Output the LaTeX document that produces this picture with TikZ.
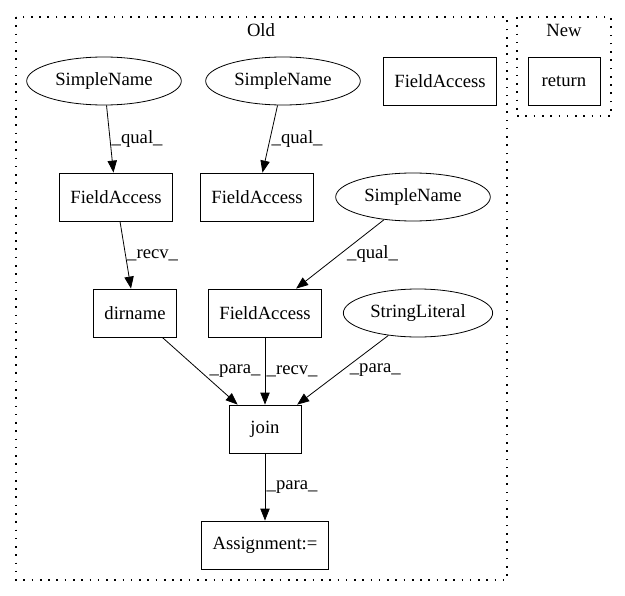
\documentclass[tikz,border=0pt]{standalone}
\usepackage{fontspec}
\setmainfont{Liberation Serif}
\usetikzlibrary{arrows.meta,shapes.geometric}

\begin{document}
\begin{tikzpicture}[x=0.75pt,y=-0.75pt,line width=0.6pt,
    every node/.style={font=\fontsize{14}{16}\selectfont},
    box/.style={draw,minimum height=36pt,minimum width=54pt,inner xsep=8pt},
    oval/.style={draw,ellipse,minimum height=36pt,inner sep=0pt},
    lbl/.style={right,inner sep=1pt},
    arr/.style={-{Triangle[length=9pt,width=7pt]}},
    cluster/.style={draw,line width=0.8pt,dash pattern=on 1.2pt off 5pt}]
    \useasboundingbox (0,0) rectangle (625,596);
    \draw[cluster] (16,17) rectangle (507,580);
    \draw[cluster] (517,17) rectangle (611,116);
    \node (oldtitle) at (261,30) {Old};
    \node (newtitle) at (564,30) {New};

    \node[oval,minimum width=116pt] (sn1) at (104,81) {SimpleName};
    \node[oval,minimum width=116pt] (sn2) at (283,81) {SimpleName};
    \node[box] (fa0) at (440,81) {FieldAccess};
    \node[box] (ret) at (564,81) {return};
    \node[box] (fa1) at (116,197) {FieldAccess};
    \node[box] (fa2) at (257,197) {FieldAccess};
    \node[oval,minimum width=116pt] (sn3) at (413,197) {SimpleName};
    \node[box] (dirname) at (135,313) {dirname};
    \node[box] (fa3) at (265,313) {FieldAccess};
    \node[oval,minimum width=112pt] (lit) at (418,313) {StringLiteral};
    \node[box] (join) at (265,429) {join};
    \node[box] (assign) at (265,545) {Assignment:=};

    \draw[arr] (sn1) -- node[lbl] {\_qual\_} (fa1);
    \draw[arr] (sn2) -- node[lbl] {\_qual\_} (fa2);
    \draw[arr] (fa1) -- node[lbl] {\_recv\_} (dirname);
    \draw[arr] (sn3) -- node[lbl,xshift=4pt] {\_qual\_} (fa3);
    \draw[arr] (dirname) -- node[lbl,xshift=6pt] {\_para\_} (join);
    \draw[arr] (fa3) -- node[lbl] {\_recv\_} (join);
    \draw[arr] (lit) -- node[lbl,xshift=4pt] {\_para\_} (join);
    \draw[arr] (join) -- node[lbl] {\_para\_} (assign);
\end{tikzpicture}
\end{document}
